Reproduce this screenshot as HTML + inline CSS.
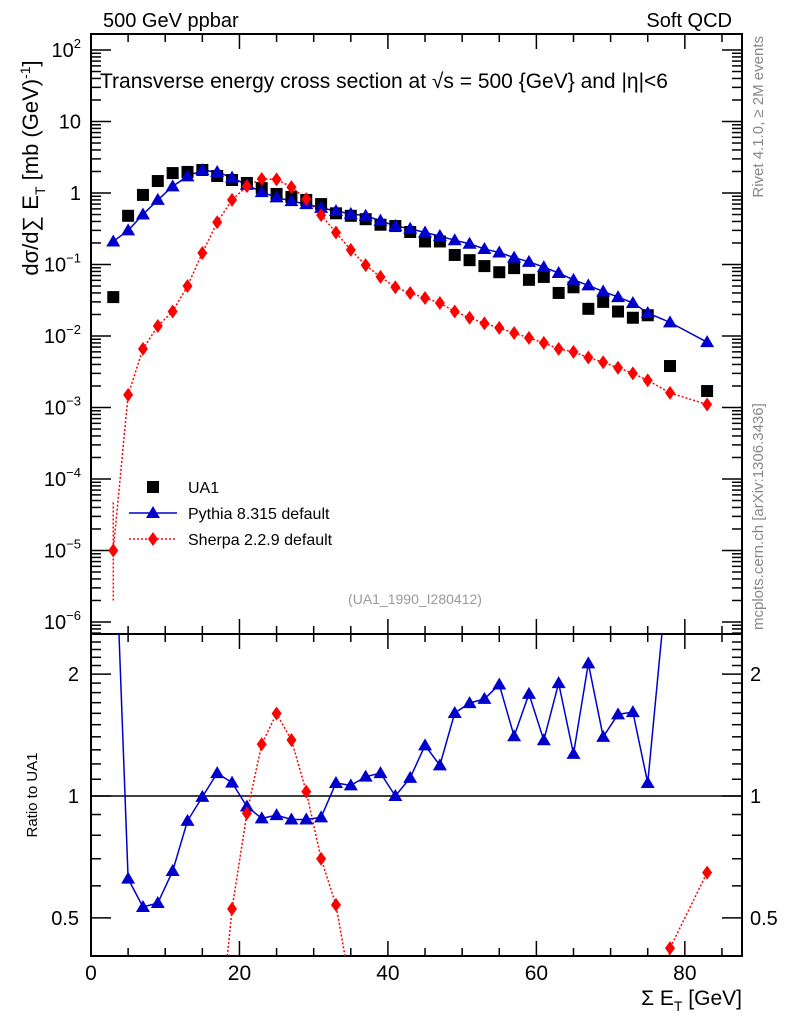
<!DOCTYPE html>
<html><head><meta charset="utf-8"><style>
html,body{margin:0;background:#fff;overflow:hidden;width:786px;height:1024px;}
svg{display:block;font-family:"Liberation Sans",sans-serif;}
</style></head><body>
<svg id="c" width="786" height="1024" viewBox="0 0 786 1024">
<defs>
<clipPath id="cm"><rect x="91" y="34" width="651" height="600"/></clipPath>
<clipPath id="cr"><rect x="91" y="634" width="651" height="322"/></clipPath>
</defs>
<g id="g"></g>
<text x="103" y="27" font-size="20">500 GeV ppbar</text>
<text x="732" y="27" font-size="20" text-anchor="end">Soft QCD</text>
<text x="100" y="88" font-size="21">Transverse energy cross section at √s = 500 {GeV} and |η|&lt;6</text>
<text transform="translate(763,36) rotate(-90)" font-size="15" fill="#888" text-anchor="end">Rivet 4.1.0, ≥ 2M events</text>
<text transform="translate(763,630) rotate(-90)" font-size="15" fill="#888">mcplots.cern.ch [arXiv:1306.3436]</text>
<text x="415" y="604" font-size="14" fill="#999" text-anchor="middle">(UA1_1990_I280412)</text>
<text transform="translate(38,168) rotate(-90)" font-size="22" text-anchor="middle">dσ/d∑ E<tspan font-size="14" dy="7">T</tspan><tspan dy="-7"> [mb (GeV)</tspan><tspan font-size="14" dy="-8">-1</tspan><tspan dy="8">]</tspan></text>
<text transform="translate(37,795) rotate(-90)" font-size="15" text-anchor="middle">Ratio to UA1</text>
<text x="742" y="1005" font-size="21" text-anchor="end">Σ E<tspan font-size="14" dy="6">T</tspan><tspan dy="-6"> [GeV]</tspan></text>
</svg>
<script>
const xs=[3,5,7,9,11,13,15,17,19,21,23,25,27,29,31,33,35,37,39,41,43,45,47,49,51,53,55,57,59,61,63,65,67,69,71,73,75,78,83];
const ua1=[0.035,0.48,0.94,1.47,1.9,1.97,2.1,1.73,1.52,1.38,1.17,0.97,0.88,0.8,0.70,0.52,0.48,0.43,0.36,0.345,0.285,0.21,0.21,0.136,0.115,0.095,0.078,0.089,0.061,0.067,0.040,0.048,0.024,0.030,0.022,0.018,0.0195,0.0038,0.0017];
const pythia=[0.21,0.30,0.50,0.80,1.24,1.71,2.09,1.97,1.64,1.30,1.03,0.87,0.77,0.70,0.62,0.56,0.51,0.48,0.41,0.345,0.316,0.28,0.25,0.218,0.195,0.165,0.147,0.125,0.109,0.092,0.076,0.061,0.051,0.042,0.035,0.029,0.021,0.0155,0.0082];
const sherpa=[1e-5,0.0015,0.0066,0.0138,0.022,0.05,0.145,0.39,0.8,1.25,1.57,1.55,1.21,0.82,0.49,0.28,0.16,0.098,0.067,0.048,0.04,0.034,0.029,0.022,0.018,0.015,0.013,0.011,0.0094,0.008,0.0066,0.006,0.005,0.0043,0.0036,0.003,0.0024,0.0016,0.0011];
const xTicks=[0,20,40,60,80];
const yTicks=[-6,-5,-4,-3,-2,-1,0,1,2];
const rTicks=[0.5,1,2];

const L=91,R=742,MT=34,MB=634,RB=956;
const X=v=>L+v*(R-L)/87.7;
const Y=v=>193-Math.log10(v)*71.5;
const YR=v=>796-Math.log10(v)*405;
const NS="http://www.w3.org/2000/svg";
const g=document.getElementById('g');
function el(t,a,p){const e=document.createElementNS(NS,t);for(const k in a)e.setAttribute(k,a[k]);(p||g).appendChild(e);return e;}
function line(x1,y1,x2,y2,p){return el('line',{x1,y1,x2,y2,stroke:'#000','stroke-width':1.5},p);}
const f1=el('rect',{x:L,y:MT,width:R-L,height:MB-MT,fill:'none',stroke:'#000','stroke-width':2});

const f2=el('rect',{x:L,y:MB,width:R-L,height:RB-MB,fill:'none',stroke:'#000','stroke-width':2});

for(let v=0;v<=85;v+=5){const x=X(v),big=v%20==0,l=big?15:8;
 line(x,MT,x,MT+l);line(x,MB,x,MB-l);line(x,MB,x,MB+l);line(x,RB,x,RB-l);}
xTicks.forEach(v=>{const t=el('text',{x:X(v),y:RB+24,'font-size':21,'text-anchor':'middle'});t.textContent=v;
});
for(let d=-7;d<=2;d++)for(let m=1;m<10;m++){const v=m*Math.pow(10,d),y=Y(v);if(y<MT||y>MB)continue;const l=m==1?20:10;
 line(L,y,L+l,y);line(R,y,R-l,y);}
yTicks.forEach(d=>{const y=Y(Math.pow(10,d));const t=el('text',{x:L-10,y:y+7,'font-size':20,'text-anchor':'end'});
 if(d==0)t.textContent='1';else if(d==1)t.textContent='10';else{t.textContent='10';const s=el('tspan',{'font-size':13,dy:-9},t);s.textContent=d==2?'2':'−'+(-d);}
 });
for(let v=0.4;v<=2.5;v+=0.1){const y=YR(v);if(y<MB||y>RB)continue;const mj=[0.5,1,2].some(q=>Math.abs(q-v)<1e-6);const l=mj?20:10;
 line(L,y,L+l,y);line(R,y,R-l,y);}
rTicks.forEach(v=>{const y=YR(v);
 const t=el('text',{x:L-12,y:y+7,'font-size':20,'text-anchor':'end'});t.textContent=v;
 
 const t2=el('text',{x:R+8,y:y+7,'font-size':20});t2.textContent=v;
 });
const ref=line(L,YR(1),R,YR(1));

function tri(x,y,p,c){return el('polygon',{points:`${x},${y-7} ${x-7},${y+5} ${x+7},${y+5}`,fill:c||'#00c'},p);}
function dia(x,y,p){return el('polygon',{points:`${x},${y-7} ${x-5},${y} ${x},${y+7} ${x+5},${y}`,fill:'#f00'},p);}
const gm=el('g',{'clip-path':'url(#cm)'});
const gr=el('g',{'clip-path':'url(#cr)'});
const pp=xs.map((x,i)=>X(x)+','+Y(pythia[i])).join(' ');
const sp=xs.map((x,i)=>X(x)+','+Y(sherpa[i])).join(' ');
const s1=el('polyline',{points:sp,fill:'none',stroke:'#f00','stroke-width':1.5,'stroke-dasharray':'2,2'},gm);

const eb=el('line',{x1:X(xs[0]),x2:X(xs[0]),y1:Y(sherpa[0]*0.2),y2:Y(sherpa[0]*5),stroke:'#f00','stroke-width':1.5,'stroke-dasharray':'2,2'},gm);

const p1=el('polyline',{points:pp,fill:'none',stroke:'#00c','stroke-width':1.5},gm);

xs.forEach((x,i)=>{
 const s=el('rect',{x:X(x)-6,y:Y(ua1[i])-6,width:12,height:12,fill:'#000'},gm);
 
 const t=tri(X(x),Y(pythia[i]),gm);
 
 const d=dia(X(x),Y(sherpa[i]),gm);
 
});
const rp=xs.map((x,i)=>X(x)+','+YR(pythia[i]/ua1[i])).join(' ');
const rs=xs.map((x,i)=>X(x)+','+YR(sherpa[i]/ua1[i])).join(' ');
const r2=el('polyline',{points:rs,fill:'none',stroke:'#f00','stroke-width':1.5,'stroke-dasharray':'2,2'},gr);

const r1=el('polyline',{points:rp,fill:'none',stroke:'#00c','stroke-width':1.5},gr);

xs.forEach((x,i)=>{
 const t=tri(X(x),YR(pythia[i]/ua1[i]),gr);
 
 const d=dia(X(x),YR(sherpa[i]/ua1[i]),gr);
 
});
const lg=el('g',{});

const ls=el('rect',{x:147,y:481,width:12,height:12,fill:'#000'},lg);

el('line',{x1:129,x2:177,y1:513,y2:513,stroke:'#00c','stroke-width':1.5},lg);
tri(153,513,lg);
el('line',{x1:129,x2:177,y1:539,y2:539,stroke:'#f00','stroke-width':1.5,'stroke-dasharray':'2,2'},lg);
dia(153,539,lg);
[['UA1',493],['Pythia 8.315 default',519],['Sherpa 2.2.9 default',545]].forEach(([s,y])=>{
 const t=el('text',{x:188,y:y,'font-size':16},lg);t.textContent=s;
 });
</script>
</body></html>
